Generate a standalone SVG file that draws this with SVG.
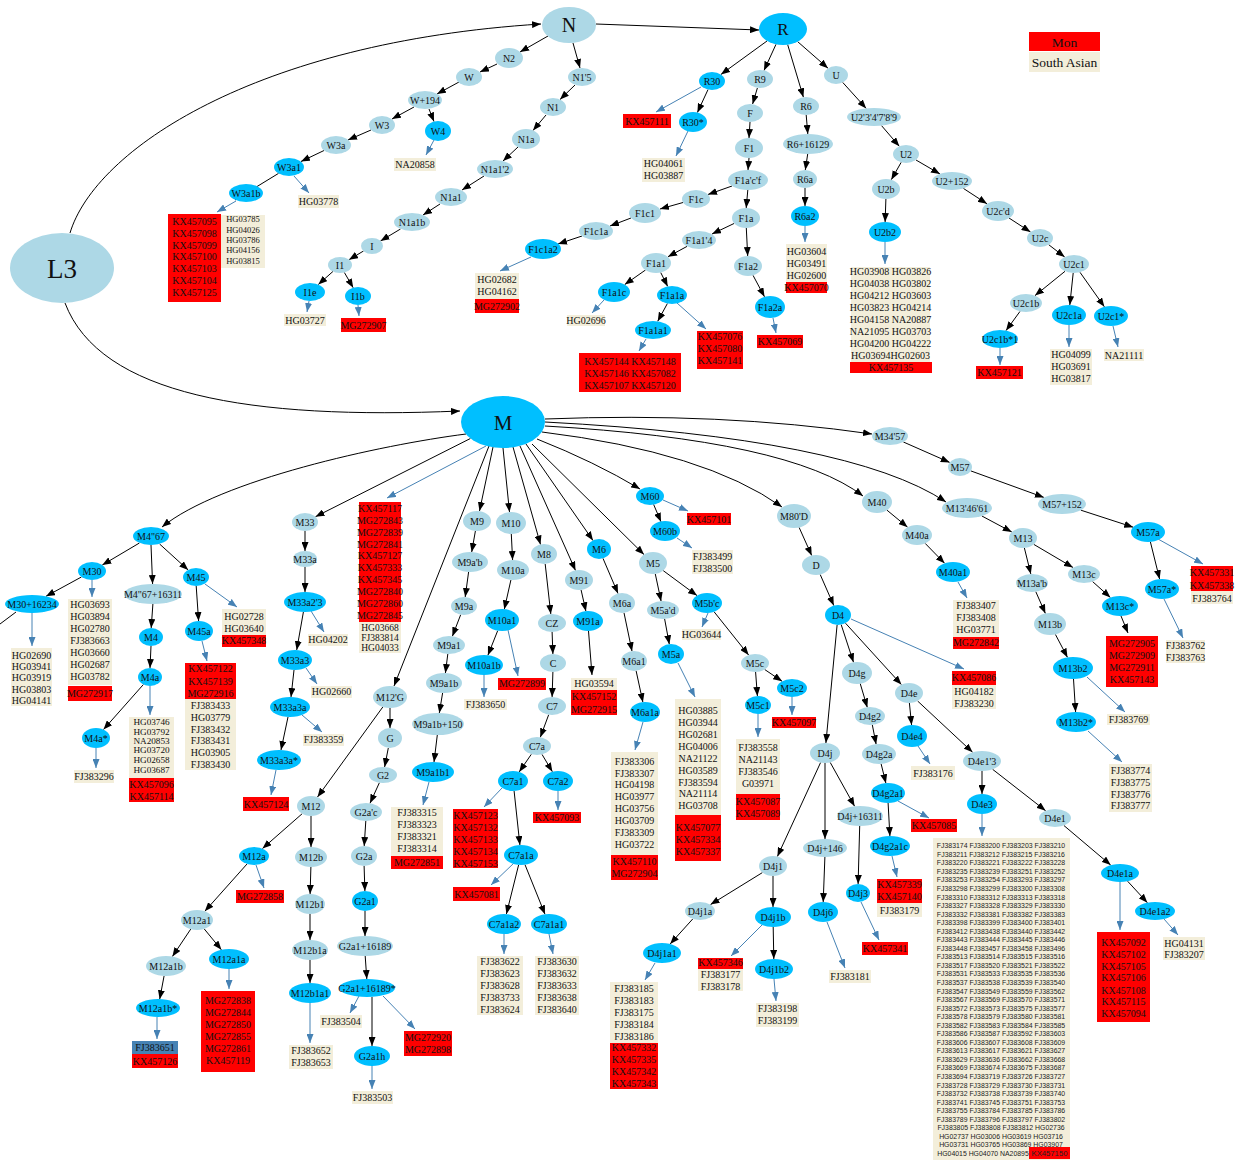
<svg xmlns="http://www.w3.org/2000/svg" width="1248" height="1160" viewBox="0 0 1248 1160">
<defs>
<style>
.nl{fill:#ADD8E6}
.nb{fill:#00BFFF}
.t{font-family:"Liberation Serif","Times New Roman",serif;font-size:10px;text-anchor:middle;fill:#111}
.rb{fill:#FF0000}
.bg{fill:#F3EEDA}
.sb{fill:#4682B4}
.k{stroke:#000;stroke-width:1;fill:none;marker-end:url(#ak)}
.k0{stroke:#000;stroke-width:1;fill:none}
.s{stroke:#4682B4;stroke-width:1;fill:none;marker-end:url(#as)}
.fj{font-family:"Liberation Sans",Arial,sans-serif;font-size:6.9px;text-anchor:middle;fill:#222}
</style>
<marker id="ak" viewBox="0 0 9 7" refX="9" refY="3.5" markerWidth="9" markerHeight="7" markerUnits="userSpaceOnUse" orient="auto"><path d="M0,0L9,3.5L0,7z" fill="#000"/></marker>
<marker id="as" viewBox="0 0 9 7" refX="9" refY="3.5" markerWidth="9" markerHeight="7" markerUnits="userSpaceOnUse" orient="auto"><path d="M0,0L9,3.5L0,7z" fill="#4682B4"/></marker>
</defs>
<rect width="1248" height="1160" fill="#fff"/>
<g id="connectors">
<path class="k" d="M70,233C95,150 255,42 541,24"/>
<path class="k" d="M65,303C100,395 250,420 460,411"/>
<path class="k" d="M596,24L759,30"/>
<path class="k" d="M548,36L520,52"/>
<path class="k" d="M497,64L480,72"/>
<path class="k" d="M459,82L437,94"/>
<path class="k" d="M429,109L434,121.5"/>
<path class="k" d="M414,107L392,119"/>
<path class="k" d="M371,130L348,140"/>
<path class="k" d="M324,150.5L301,161.5"/>
<path class="k" d="M278.5,173.4L235,200"/>
<path class="k" d="M573,43L580,68"/>
<path class="k" d="M575,85L560,99.5"/>
<path class="k" d="M546,115L533,130.5"/>
<path class="k" d="M518,147L503,161"/>
<path class="k" d="M484,176L462,190"/>
<path class="k" d="M440,204L423,215"/>
<path class="k" d="M400.5,229L380.5,241"/>
<path class="k" d="M363.5,251L349,259.7"/>
<path class="k" d="M333,271.4L318.3,284.5"/>
<path class="k" d="M344.3,272.4L353.2,287.7"/>
<path class="k" d="M767,41L721,74.4"/>
<path class="k" d="M708,89.6L697.4,112.5"/>
<path class="k" d="M776,44.3L764,70.5"/>
<path class="k" d="M757.4,88L752.6,104"/>
<path class="k" d="M750,122L749,138"/>
<path class="k" d="M749,158L748,170"/>
<path class="k" d="M732,186L708,194.5"/>
<path class="k" d="M683,202.5L660,209"/>
<path class="k" d="M631,218L610,226"/>
<path class="k" d="M582,236L558,244"/>
<path class="k" d="M747.8,190L746.2,208"/>
<path class="k" d="M734,223.5L712,234"/>
<path class="k" d="M687,246.4L668,256.7"/>
<path class="k" d="M645.5,270L624.7,284.6"/>
<path class="k" d="M660.7,272.5L667.7,286.4"/>
<path class="k" d="M667.4,303.5L657.7,321.3"/>
<path class="k" d="M746.3,228L747.7,256"/>
<path class="k" d="M753,275.3L764.5,296.8"/>
<path class="k" d="M787.7,44.7L803.4,97.2"/>
<path class="k" d="M806.2,115L807.8,134"/>
<path class="k" d="M807.7,154L805.3,170"/>
<path class="k" d="M805,188L805,206"/>
<path class="k" d="M797.6,41.6L828,68.2"/>
<path class="k" d="M842.7,82.4L866.2,108.4"/>
<path class="k" d="M881.5,125.6L899.3,146.3"/>
<path class="k" d="M901.2,162.3L891.3,179.7"/>
<path class="k" d="M885.9,199L885.1,222"/>
<path class="k" d="M916,160L940,174"/>
<path class="k" d="M963.4,188.4L987,203.8"/>
<path class="k" d="M1009,218L1030.5,232"/>
<path class="k" d="M1048.7,244.7L1064.7,257"/>
<path class="k" d="M1065,271.3L1035,295.6"/>
<path class="k" d="M1020,311.4L1006,330.6"/>
<path class="k" d="M1073.2,273L1069.8,305"/>
<path class="k" d="M1080,272.3L1104.4,306.8"/>
<path class="s" d="M434,140L426,155"/>
<path class="s" d="M294,176L309,193"/>
<path class="s" d="M236,201L217,212"/>
<path class="s" d="M309,301L307,312"/>
<path class="s" d="M358,305L359,316"/>
<path class="s" d="M701,87L656,112"/>
<path class="s" d="M688,131L676,156"/>
<path class="s" d="M531,257L500,271"/>
<path class="s" d="M604,300L592,313"/>
<path class="s" d="M646,339L639,351"/>
<path class="s" d="M677,303L706,329"/>
<path class="s" d="M773,318L776,333"/>
<path class="s" d="M805,226L805,242"/>
<path class="s" d="M885,242L885,264"/>
<path class="s" d="M1000,348L1000,365"/>
<path class="s" d="M1069,325L1069,347"/>
<path class="s" d="M1113,326L1118,347"/>
<path class="k" d="M466,434C380,445 220,480 162,527"/>
<path class="k" d="M470.4,438.5L315.5,516.7"/>
<path class="k" d="M489,446L394,686"/>
<path class="k" d="M493,447L479.5,511"/>
<path class="k" d="M503,448L509.5,512"/>
<path class="k" d="M513,447L540.5,544.5"/>
<path class="k" d="M520,446L575.5,570.5"/>
<path class="k" d="M526,444L593,540.5"/>
<path class="k" d="M532,444L644,554.5"/>
<path class="k" d="M537,439Q595,462 640,489"/>
<path class="k" d="M542,432Q705,452 782,507"/>
<path class="k" d="M545,426Q790,440 863,496"/>
<path class="k" d="M545,422Q850,438 946,502"/>
<path class="k" d="M545,419Q720,412 872,434"/>
<path class="k" d="M139.4,543L102.3,565"/>
<path class="k" d="M81.4,577L46,596.3"/>
<path class="k0" d="M16,612L-4,627"/>
<path class="k" d="M151,545L152.6,584"/>
<path class="k" d="M152.9,604L151.2,628"/>
<path class="k" d="M151,646L150,668"/>
<path class="k" d="M143.4,684.5L103.5,729.5"/>
<path class="k" d="M159.6,544L188.2,570"/>
<path class="k" d="M196.2,586L198.6,621"/>
<path class="k" d="M305,531L305,551"/>
<path class="k" d="M305,567L305,592"/>
<path class="k" d="M303.4,612L296.7,650"/>
<path class="k" d="M294,670L291,697"/>
<path class="k" d="M288,717L281,750"/>
<path class="k" d="M382.8,707L317.5,797"/>
<path class="k" d="M390,708L390,728"/>
<path class="k" d="M388.3,748L384.6,767"/>
<path class="k" d="M379.4,782.7L370,803.3"/>
<path class="k" d="M365.8,821L364.2,846"/>
<path class="k" d="M364.1,866L364.9,891"/>
<path class="k" d="M365,911L365,936"/>
<path class="k" d="M365.2,956L366.8,979"/>
<path class="k" d="M372,997L372,1046"/>
<path class="k" d="M302.2,813.7L262.5,848.5"/>
<path class="k" d="M311,816L311,847"/>
<path class="k" d="M247,864L204.8,911.3"/>
<path class="k" d="M190.8,929L172.4,956.5"/>
<path class="k" d="M204.3,929L221.4,949.8"/>
<path class="k" d="M164.1,975.8L159.7,999.2"/>
<path class="k" d="M310.9,867L310.1,894"/>
<path class="k" d="M310,914L310,940"/>
<path class="k" d="M310,960L310,983"/>
<path class="k" d="M475.4,531L471.7,552"/>
<path class="k" d="M468.6,572L465.2,597"/>
<path class="k" d="M460.7,614.7L452.4,636.2"/>
<path class="k" d="M447.8,654L445.4,673"/>
<path class="k" d="M442.6,693L439.3,713"/>
<path class="k" d="M437.3,735L434,762"/>
<path class="k" d="M511.3,534L512.6,560"/>
<path class="k" d="M510.9,580L504.3,609.3"/>
<path class="k" d="M497.7,630.7L487.9,655.3"/>
<path class="k" d="M545.2,564L550.8,614"/>
<path class="k" d="M552.1,632L552.9,654"/>
<path class="k" d="M552.9,672L552.1,697"/>
<path class="k" d="M548.7,714.7L540.3,737.3"/>
<path class="k" d="M531.3,754.3L519.2,771.9"/>
<path class="k" d="M542,754.4L552.4,771.7"/>
<path class="k" d="M514.1,791L519.9,845"/>
<path class="k" d="M518.6,865L506.4,914"/>
<path class="k" d="M525,864.7L545,914.3"/>
<path class="k" d="M581.1,590L585.9,611.2"/>
<path class="k" d="M588.5,631L592,675"/>
<path class="k" d="M603,558.4L618,593.5"/>
<path class="k" d="M624,612.8L632,651.2"/>
<path class="k" d="M636.1,670.8L642.9,702.2"/>
<path class="k" d="M653.6,504.4L661,521.8"/>
<path class="k" d="M655.3,574L661.1,601.2"/>
<path class="k" d="M664.6,618.8L669.3,644.2"/>
<path class="k" d="M663.2,570.6L697,595.6"/>
<path class="k" d="M714.1,611.8L748.6,655"/>
<path class="k" d="M755.6,672L757.4,696"/>
<path class="k" d="M764.7,669.5L782.1,681.3"/>
<path class="k" d="M799.1,527.4L811.7,555.5"/>
<path class="k" d="M820.2,574.5L833.8,605.6"/>
<path class="k" d="M837.1,625L825.9,743"/>
<path class="k" d="M841.2,624.7L853.5,662.3"/>
<path class="k" d="M845.5,623.2L901.4,684.6"/>
<path class="k" d="M860.2,683.5L867.3,707.4"/>
<path class="k" d="M872.3,724.8L876.1,744.2"/>
<path class="k" d="M881.1,763.8L885.9,783.2"/>
<path class="k" d="M888.1,803L889.9,836"/>
<path class="k" d="M909.4,703L911.6,725"/>
<path class="k" d="M917.6,701L972.6,752.3"/>
<path class="k" d="M982,771L982,794"/>
<path class="k" d="M992.6,769.3L1045.6,810.7"/>
<path class="k" d="M1063.9,825.5L1110.7,865.1"/>
<path class="k" d="M1127.6,881.2L1147.4,902.7"/>
<path class="k" d="M820.6,762.5L777.4,856.5"/>
<path class="k" d="M825,763L825,839"/>
<path class="k" d="M830.2,762.4L854.6,806.3"/>
<path class="k" d="M859.7,826L858.1,884"/>
<path class="k" d="M824.9,857L823.2,902"/>
<path class="k" d="M762.4,872.6L710.5,904.6"/>
<path class="k" d="M773,876L773,907"/>
<path class="k" d="M692.8,918.9L670.2,943.9"/>
<path class="k" d="M773.2,927L773.8,959"/>
<path class="k" d="M887,510.2L907.6,527.2"/>
<path class="k" d="M925.2,543.4L944.6,563.3"/>
<path class="k" d="M981.9,516L1011.8,532"/>
<path class="k" d="M1024.4,548L1030.8,574"/>
<path class="k" d="M1035.8,591.7L1045.4,613.5"/>
<path class="k" d="M1055.4,634.4L1067.5,657.4"/>
<path class="k" d="M1073.5,679L1075.6,712"/>
<path class="k" d="M1033.8,544.4L1073,567.5"/>
<path class="k" d="M1092.6,581.6L1110.4,597.5"/>
<path class="k" d="M1121,616L1128,633"/>
<path class="k" d="M903.4,442L949.7,462.4"/>
<path class="k" d="M970.8,470.9L1043.9,497.4"/>
<path class="k" d="M1080.9,510.2L1133.2,527.2"/>
<path class="k" d="M1150.4,541.9L1159.6,579.1"/>
<path class="s" d="M486,446L387,498"/>
<path class="s" d="M92,580L92,597"/>
<path class="s" d="M32,613L32,646"/>
<path class="s" d="M150,686L150,715"/>
<path class="s" d="M96,748L96,768"/>
<path class="s" d="M205,584L237,607"/>
<path class="s" d="M202,641L207,661"/>
<path class="s" d="M311,611L324,632"/>
<path class="s" d="M306,668L317,684"/>
<path class="s" d="M302,715L322,732"/>
<path class="s" d="M276,770L271,795"/>
<path class="s" d="M256,865L264,888"/>
<path class="s" d="M157,1017L157,1039"/>
<path class="s" d="M229,969L229,989"/>
<path class="s" d="M310,1003L310,1043"/>
<path class="s" d="M359,996L350,1013"/>
<path class="s" d="M383,996L415,1029"/>
<path class="s" d="M372,1066L372,1089"/>
<path class="s" d="M429,782L423,805"/>
<path class="s" d="M508,630L518,676"/>
<path class="s" d="M484,675L484,697"/>
<path class="s" d="M502,788L484,807"/>
<path class="s" d="M558,791L558,810"/>
<path class="s" d="M514,863L491,885"/>
<path class="s" d="M504,934L504,954"/>
<path class="s" d="M549,934L553,954"/>
<path class="s" d="M643,722L635,750"/>
<path class="s" d="M663,500L688,511"/>
<path class="s" d="M677,538L692,548"/>
<path class="s" d="M678,663L695,697"/>
<path class="s" d="M708,613L702,627"/>
<path class="s" d="M758,714L758,737"/>
<path class="s" d="M792,697L792,715"/>
<path class="s" d="M851,619L964,669"/>
<path class="s" d="M898,801L929,818"/>
<path class="s" d="M892,856L897,877"/>
<path class="s" d="M918,746L930,764"/>
<path class="s" d="M982,814L982,836"/>
<path class="s" d="M1120,882L1120,930"/>
<path class="s" d="M1164,919L1178,935"/>
<path class="s" d="M861,902L879,940"/>
<path class="s" d="M827,922L845,968"/>
<path class="s" d="M655,963L645,980"/>
<path class="s" d="M762,925L731,956"/>
<path class="s" d="M774,979L776,1001"/>
<path class="s" d="M958,582L967,598"/>
<path class="s" d="M1087,677L1125,712"/>
<path class="s" d="M1088,731L1122,762"/>
<path class="s" d="M1158,539L1203,564"/>
<path class="s" d="M1164,599L1183,638"/>
</g>
<g id="legend">
<rect class="rb" x="1029" y="32" width="71" height="19"/><text class="t" x="1064.5" y="46.5" style="font-size:13.5px">Mon</text>
<rect class="bg" x="1029" y="52" width="71" height="20"/><text class="t" x="1064.5" y="66.5" style="font-size:13.5px">South Asian</text>
</g>
<g id="L3"><ellipse class="nl" cx="62" cy="268" rx="52" ry="35"/><text class="t" x="62" y="277.5" style="font-size:27px">L3</text></g>
<g id="N"><ellipse class="nl" cx="569" cy="25" rx="27" ry="18"/><text class="t" x="569" y="32" style="font-size:20px">N</text></g>
<g id="R"><ellipse class="nb" cx="783" cy="29" rx="24" ry="16"/><text class="t" x="783" y="35" style="font-size:17px">R</text></g>
<g id="N2"><ellipse class="nl" cx="509" cy="58" rx="14" ry="10"/><text class="t" x="509" y="61.5">N2</text></g>
<g id="W"><ellipse class="nl" cx="469" cy="77" rx="13" ry="9"/><text class="t" x="469" y="80.5">W</text></g>
<g id="W194"><ellipse class="nl" cx="425" cy="100" rx="17" ry="9"/><text class="t" x="425" y="103.5">W+194</text></g>
<g id="W4"><ellipse class="nb" cx="438" cy="131" rx="13" ry="10"/><text class="t" x="438" y="134.5">W4</text></g>
<g id="W3"><ellipse class="nl" cx="382" cy="125" rx="13" ry="9"/><text class="t" x="382" y="128.5">W3</text></g>
<g id="W3a"><ellipse class="nl" cx="336" cy="145" rx="15" ry="9"/><text class="t" x="336" y="148.5">W3a</text></g>
<g id="W3a1"><ellipse class="nb" cx="289" cy="167" rx="15" ry="9"/><text class="t" x="289" y="170.5">W3a1</text></g>
<g id="W3a1b"><ellipse class="nb" cx="246" cy="193" rx="17" ry="9"/><text class="t" x="246" y="196.5">W3a1b</text></g>
<g id="N15"><ellipse class="nl" cx="582" cy="77" rx="14" ry="9"/><text class="t" x="582" y="80.5">N1'5</text></g>
<g id="N1"><ellipse class="nl" cx="553" cy="107" rx="13" ry="9"/><text class="t" x="553" y="110.5">N1</text></g>
<g id="N1a"><ellipse class="nl" cx="526" cy="139" rx="14" ry="10"/><text class="t" x="526" y="142.5">N1a</text></g>
<g id="N1a12"><ellipse class="nl" cx="495" cy="169" rx="18" ry="9"/><text class="t" x="495" y="172.5">N1a1'2</text></g>
<g id="N1a1"><ellipse class="nl" cx="451" cy="197" rx="16" ry="9"/><text class="t" x="451" y="200.5">N1a1</text></g>
<g id="N1a1b"><ellipse class="nl" cx="412" cy="222" rx="18" ry="9"/><text class="t" x="412" y="225.5">N1a1b</text></g>
<g id="I"><ellipse class="nl" cx="372" cy="246" rx="11" ry="8"/><text class="t" x="372" y="249.5">I</text></g>
<g id="I1"><ellipse class="nl" cx="340" cy="265" rx="12" ry="8"/><text class="t" x="340" y="268.5">I1</text></g>
<g id="I1e"><ellipse class="nb" cx="310" cy="292" rx="15" ry="9"/><text class="t" x="310" y="295.5">I1e</text></g>
<g id="I1b"><ellipse class="nb" cx="358" cy="296" rx="13" ry="9"/><text class="t" x="358" y="299.5">I1b</text></g>
<g id="R30"><ellipse class="nb" cx="712" cy="81" rx="13" ry="9"/><text class="t" x="712" y="84.5">R30</text></g>
<g id="R30s"><ellipse class="nb" cx="693" cy="122" rx="14" ry="10"/><text class="t" x="693" y="125.5">R30*</text></g>
<g id="R9"><ellipse class="nl" cx="760" cy="79" rx="13" ry="9"/><text class="t" x="760" y="82.5">R9</text></g>
<g id="F"><ellipse class="nl" cx="750" cy="113" rx="13" ry="9"/><text class="t" x="750" y="116.5">F</text></g>
<g id="F1"><ellipse class="nl" cx="749" cy="148" rx="14" ry="10"/><text class="t" x="749" y="151.5">F1</text></g>
<g id="F1acf"><ellipse class="nl" cx="748" cy="180" rx="20" ry="10"/><text class="t" x="748" y="183.5">F1a'c'f</text></g>
<g id="F1c"><ellipse class="nl" cx="696" cy="199" rx="14" ry="9"/><text class="t" x="696" y="202.5">F1c</text></g>
<g id="F1c1"><ellipse class="nl" cx="645" cy="213" rx="16" ry="10"/><text class="t" x="645" y="216.5">F1c1</text></g>
<g id="F1c1a"><ellipse class="nl" cx="596" cy="231" rx="17" ry="9"/><text class="t" x="596" y="234.5">F1c1a</text></g>
<g id="F1c1a2"><ellipse class="nb" cx="543" cy="249" rx="18" ry="10"/><text class="t" x="543" y="252.5">F1c1a2</text></g>
<g id="F1a"><ellipse class="nl" cx="746" cy="218" rx="14" ry="10"/><text class="t" x="746" y="221.5">F1a</text></g>
<g id="F1a14"><ellipse class="nl" cx="699" cy="240" rx="17" ry="9"/><text class="t" x="699" y="243.5">F1a1'4</text></g>
<g id="F1a1"><ellipse class="nl" cx="656" cy="263" rx="15" ry="10"/><text class="t" x="656" y="266.5">F1a1</text></g>
<g id="F1a1c"><ellipse class="nb" cx="614" cy="292" rx="16" ry="10"/><text class="t" x="614" y="295.5">F1a1c</text></g>
<g id="F1a1a"><ellipse class="nb" cx="672" cy="295" rx="15" ry="9"/><text class="t" x="672" y="298.5">F1a1a</text></g>
<g id="F1a1a1"><ellipse class="nb" cx="653" cy="330" rx="18" ry="9"/><text class="t" x="653" y="333.5">F1a1a1</text></g>
<g id="F1a2"><ellipse class="nl" cx="748" cy="266" rx="14" ry="10"/><text class="t" x="748" y="269.5">F1a2</text></g>
<g id="F1a2a"><ellipse class="nb" cx="770" cy="307" rx="15" ry="11"/><text class="t" x="770" y="310.5">F1a2a</text></g>
<g id="R6"><ellipse class="nl" cx="806" cy="106" rx="13" ry="9"/><text class="t" x="806" y="109.5">R6</text></g>
<g id="R616129"><ellipse class="nl" cx="808" cy="144" rx="25" ry="10"/><text class="t" x="808" y="147.5">R6+16129</text></g>
<g id="R6a"><ellipse class="nl" cx="805" cy="179" rx="12" ry="9"/><text class="t" x="805" y="182.5">R6a</text></g>
<g id="R6a2"><ellipse class="nb" cx="805" cy="216" rx="14" ry="10"/><text class="t" x="805" y="219.5">R6a2</text></g>
<g id="U"><ellipse class="nl" cx="836" cy="75" rx="12" ry="9"/><text class="t" x="836" y="78.5">U</text></g>
<g id="U2x"><ellipse class="nl" cx="874" cy="117" rx="27" ry="9"/><text class="t" x="874" y="120.5">U2'3'4'7'8'9</text></g>
<g id="U2"><ellipse class="nl" cx="906" cy="154" rx="13" ry="9"/><text class="t" x="906" y="157.5">U2</text></g>
<g id="U2b"><ellipse class="nl" cx="886" cy="189" rx="14" ry="10"/><text class="t" x="886" y="192.5">U2b</text></g>
<g id="U2b2"><ellipse class="nb" cx="885" cy="232" rx="16" ry="10"/><text class="t" x="885" y="235.5">U2b2</text></g>
<g id="U2p152"><ellipse class="nl" cx="952" cy="181" rx="20" ry="9"/><text class="t" x="952" y="184.5">U2+152</text></g>
<g id="U2cd"><ellipse class="nl" cx="998" cy="211" rx="16" ry="10"/><text class="t" x="998" y="214.5">U2c'd</text></g>
<g id="U2c"><ellipse class="nl" cx="1040" cy="238" rx="13" ry="9"/><text class="t" x="1040" y="241.5">U2c</text></g>
<g id="U2c1"><ellipse class="nl" cx="1074" cy="264" rx="15" ry="9"/><text class="t" x="1074" y="267.5">U2c1</text></g>
<g id="U2c1b"><ellipse class="nl" cx="1026" cy="303" rx="16" ry="9"/><text class="t" x="1026" y="306.5">U2c1b</text></g>
<g id="U2c1bs1"><ellipse class="nb" cx="1000" cy="339" rx="18" ry="9"/><text class="t" x="1000" y="342.5">U2c1b*1</text></g>
<g id="U2c1a"><ellipse class="nb" cx="1069" cy="315" rx="17" ry="10"/><text class="t" x="1069" y="318.5">U2c1a</text></g>
<g id="U2c1s"><ellipse class="nb" cx="1111" cy="316" rx="17" ry="10"/><text class="t" x="1111" y="319.5">U2c1*</text></g>
<g id="M"><ellipse class="nb" cx="503" cy="422" rx="42" ry="26"/><text class="t" x="503" y="429.5" style="font-size:21px">M</text></g>
<g id="M467"><ellipse class="nb" cx="151" cy="536" rx="18" ry="9"/><text class="t" x="151" y="539.5">M4"67</text></g>
<g id="M30"><ellipse class="nb" cx="92" cy="571" rx="14" ry="9"/><text class="t" x="92" y="574.5">M30</text></g>
<g id="M3016234"><ellipse class="nb" cx="32" cy="604" rx="27" ry="9"/><text class="t" x="32" y="607.5">M30+16234</text></g>
<g id="M46716311"><ellipse class="nl" cx="153" cy="594" rx="29" ry="10"/><text class="t" x="153" y="597.5">M4"67+16311</text></g>
<g id="M4"><ellipse class="nb" cx="151" cy="637" rx="12" ry="9"/><text class="t" x="151" y="640.5">M4</text></g>
<g id="M4a"><ellipse class="nb" cx="150" cy="677" rx="12" ry="9"/><text class="t" x="150" y="680.5">M4a</text></g>
<g id="M4as"><ellipse class="nb" cx="96" cy="738" rx="14" ry="10"/><text class="t" x="96" y="741.5">M4a*</text></g>
<g id="M45"><ellipse class="nb" cx="196" cy="577" rx="13" ry="9"/><text class="t" x="196" y="580.5">M45</text></g>
<g id="M45a"><ellipse class="nb" cx="199" cy="631" rx="14" ry="10"/><text class="t" x="199" y="634.5">M45a</text></g>
<g id="M33"><ellipse class="nl" cx="305" cy="522" rx="13" ry="9"/><text class="t" x="305" y="525.5">M33</text></g>
<g id="M33a"><ellipse class="nl" cx="305" cy="559" rx="12" ry="8"/><text class="t" x="305" y="562.5">M33a</text></g>
<g id="M33a23"><ellipse class="nb" cx="305" cy="602" rx="21" ry="10"/><text class="t" x="305" y="605.5">M33a2'3</text></g>
<g id="M33a3"><ellipse class="nb" cx="295" cy="660" rx="17" ry="10"/><text class="t" x="295" y="663.5">M33a3</text></g>
<g id="M33a3a"><ellipse class="nb" cx="290" cy="707" rx="20" ry="10"/><text class="t" x="290" y="710.5">M33a3a</text></g>
<g id="M33a3as"><ellipse class="nb" cx="279" cy="760" rx="22" ry="10"/><text class="t" x="279" y="763.5">M33a3a*</text></g>
<g id="M12G"><ellipse class="nl" cx="390" cy="697" rx="17" ry="11"/><text class="t" x="390" y="700.5">M12'G</text></g>
<g id="G"><ellipse class="nl" cx="390" cy="738" rx="12" ry="10"/><text class="t" x="390" y="741.5">G</text></g>
<g id="G2"><ellipse class="nl" cx="383" cy="775" rx="14" ry="8"/><text class="t" x="383" y="778.5">G2</text></g>
<g id="G2ac"><ellipse class="nl" cx="366" cy="812" rx="16" ry="9"/><text class="t" x="366" y="815.5">G2a'c</text></g>
<g id="G2a"><ellipse class="nl" cx="364" cy="856" rx="13" ry="10"/><text class="t" x="364" y="859.5">G2a</text></g>
<g id="G2a1"><ellipse class="nb" cx="365" cy="901" rx="13" ry="10"/><text class="t" x="365" y="904.5">G2a1</text></g>
<g id="G2a116189"><ellipse class="nl" cx="365" cy="946" rx="28" ry="10"/><text class="t" x="365" y="949.5">G2a1+16189</text></g>
<g id="G2a116189s"><ellipse class="nb" cx="367" cy="988" rx="28" ry="9"/><text class="t" x="367" y="991.5">G2a1+16189*</text></g>
<g id="G2a1h"><ellipse class="nb" cx="372" cy="1056" rx="18" ry="10"/><text class="t" x="372" y="1059.5">G2a1h</text></g>
<g id="M12"><ellipse class="nl" cx="311" cy="806" rx="14" ry="10"/><text class="t" x="311" y="809.5">M12</text></g>
<g id="M12a"><ellipse class="nb" cx="254" cy="856" rx="15" ry="9"/><text class="t" x="254" y="859.5">M12a</text></g>
<g id="M12a1"><ellipse class="nl" cx="197" cy="920" rx="16" ry="10"/><text class="t" x="197" y="923.5">M12a1</text></g>
<g id="M12a1b"><ellipse class="nl" cx="166" cy="966" rx="20" ry="10"/><text class="t" x="166" y="969.5">M12a1b</text></g>
<g id="M12a1bs"><ellipse class="nb" cx="158" cy="1008" rx="22" ry="9"/><text class="t" x="158" y="1011.5">M12a1b*</text></g>
<g id="M12a1a"><ellipse class="nb" cx="229" cy="959" rx="20" ry="10"/><text class="t" x="229" y="962.5">M12a1a</text></g>
<g id="M12b"><ellipse class="nl" cx="311" cy="857" rx="16" ry="10"/><text class="t" x="311" y="860.5">M12b</text></g>
<g id="M12b1"><ellipse class="nl" cx="310" cy="904" rx="15" ry="10"/><text class="t" x="310" y="907.5">M12b1</text></g>
<g id="M12b1a"><ellipse class="nl" cx="310" cy="950" rx="18" ry="10"/><text class="t" x="310" y="953.5">M12b1a</text></g>
<g id="M12b1a1"><ellipse class="nb" cx="310" cy="993" rx="21" ry="10"/><text class="t" x="310" y="996.5">M12b1a1</text></g>
<g id="M9"><ellipse class="nl" cx="477" cy="521" rx="14" ry="10"/><text class="t" x="477" y="524.5">M9</text></g>
<g id="M9ab"><ellipse class="nl" cx="470" cy="562" rx="18" ry="10"/><text class="t" x="470" y="565.5">M9a'b</text></g>
<g id="M9a"><ellipse class="nl" cx="464" cy="606" rx="13" ry="9"/><text class="t" x="464" y="609.5">M9a</text></g>
<g id="M9a1"><ellipse class="nl" cx="449" cy="645" rx="16" ry="9"/><text class="t" x="449" y="648.5">M9a1</text></g>
<g id="M9a1b"><ellipse class="nl" cx="444" cy="683" rx="18" ry="10"/><text class="t" x="444" y="686.5">M9a1b</text></g>
<g id="M9a1b150"><ellipse class="nl" cx="438" cy="724" rx="26" ry="11"/><text class="t" x="438" y="727.5">M9a1b+150</text></g>
<g id="M9a1b1"><ellipse class="nb" cx="433" cy="772" rx="21" ry="10"/><text class="t" x="433" y="775.5">M9a1b1</text></g>
<g id="M10"><ellipse class="nl" cx="511" cy="523" rx="15" ry="11"/><text class="t" x="511" y="526.5">M10</text></g>
<g id="M10a"><ellipse class="nl" cx="513" cy="570" rx="16" ry="10"/><text class="t" x="513" y="573.5">M10a</text></g>
<g id="M10a1"><ellipse class="nb" cx="502" cy="620" rx="17" ry="11"/><text class="t" x="502" y="623.5">M10a1</text></g>
<g id="M10a1b"><ellipse class="nb" cx="484" cy="665" rx="19" ry="10"/><text class="t" x="484" y="668.5">M10a1b</text></g>
<g id="M8"><ellipse class="nl" cx="544" cy="554" rx="13" ry="10"/><text class="t" x="544" y="557.5">M8</text></g>
<g id="CZ"><ellipse class="nl" cx="552" cy="623" rx="14" ry="9"/><text class="t" x="552" y="626.5">CZ</text></g>
<g id="C"><ellipse class="nl" cx="553" cy="663" rx="13" ry="9"/><text class="t" x="553" y="666.5">C</text></g>
<g id="C7"><ellipse class="nl" cx="552" cy="706" rx="14" ry="9"/><text class="t" x="552" y="709.5">C7</text></g>
<g id="C7a"><ellipse class="nl" cx="537" cy="746" rx="14" ry="9"/><text class="t" x="537" y="749.5">C7a</text></g>
<g id="C7a1"><ellipse class="nb" cx="513" cy="781" rx="15" ry="10"/><text class="t" x="513" y="784.5">C7a1</text></g>
<g id="C7a2"><ellipse class="nb" cx="558" cy="781" rx="15" ry="10"/><text class="t" x="558" y="784.5">C7a2</text></g>
<g id="C7a1a"><ellipse class="nb" cx="521" cy="855" rx="17" ry="10"/><text class="t" x="521" y="858.5">C7a1a</text></g>
<g id="C7a1a2"><ellipse class="nb" cx="504" cy="924" rx="17" ry="10"/><text class="t" x="504" y="927.5">C7a1a2</text></g>
<g id="C7a1a1"><ellipse class="nb" cx="549" cy="924" rx="18" ry="10"/><text class="t" x="549" y="927.5">C7a1a1</text></g>
<g id="M91"><ellipse class="nl" cx="579" cy="580" rx="14" ry="10"/><text class="t" x="579" y="583.5">M91</text></g>
<g id="M91a"><ellipse class="nb" cx="588" cy="621" rx="15" ry="10"/><text class="t" x="588" y="624.5">M91a</text></g>
<g id="M6"><ellipse class="nb" cx="599" cy="549" rx="12" ry="10"/><text class="t" x="599" y="552.5">M6</text></g>
<g id="M6a"><ellipse class="nl" cx="622" cy="603" rx="13" ry="10"/><text class="t" x="622" y="606.5">M6a</text></g>
<g id="M6a1"><ellipse class="nl" cx="634" cy="661" rx="13" ry="10"/><text class="t" x="634" y="664.5">M6a1</text></g>
<g id="M6a1a"><ellipse class="nb" cx="645" cy="712" rx="15" ry="10"/><text class="t" x="645" y="715.5">M6a1a</text></g>
<g id="M60"><ellipse class="nb" cx="650" cy="496" rx="14" ry="9"/><text class="t" x="650" y="499.5">M60</text></g>
<g id="M60b"><ellipse class="nb" cx="665" cy="531" rx="15" ry="10"/><text class="t" x="665" y="534.5">M60b</text></g>
<g id="M5"><ellipse class="nl" cx="653" cy="563" rx="14" ry="11"/><text class="t" x="653" y="566.5">M5</text></g>
<g id="M5ad"><ellipse class="nl" cx="663" cy="610" rx="16" ry="9"/><text class="t" x="663" y="613.5">M5a'd</text></g>
<g id="M5a"><ellipse class="nb" cx="671" cy="654" rx="13" ry="10"/><text class="t" x="671" y="657.5">M5a</text></g>
<g id="M5bc"><ellipse class="nb" cx="707" cy="603" rx="15" ry="10"/><text class="t" x="707" y="606.5">M5b'c</text></g>
<g id="M5c"><ellipse class="nl" cx="755" cy="663" rx="14" ry="9"/><text class="t" x="755" y="666.5">M5c</text></g>
<g id="M5c1"><ellipse class="nb" cx="758" cy="705" rx="13" ry="9"/><text class="t" x="758" y="708.5">M5c1</text></g>
<g id="M5c2"><ellipse class="nb" cx="792" cy="688" rx="15" ry="9"/><text class="t" x="792" y="691.5">M5c2</text></g>
<g id="M80D"><ellipse class="nl" cx="794" cy="516" rx="17" ry="12"/><text class="t" x="794" y="519.5">M80'D</text></g>
<g id="D"><ellipse class="nl" cx="816" cy="565" rx="14" ry="10"/><text class="t" x="816" y="568.5">D</text></g>
<g id="D4"><ellipse class="nb" cx="838" cy="615" rx="13" ry="10"/><text class="t" x="838" y="618.5">D4</text></g>
<g id="D4g"><ellipse class="nl" cx="857" cy="673" rx="15" ry="11"/><text class="t" x="857" y="676.5">D4g</text></g>
<g id="D4g2"><ellipse class="nl" cx="870" cy="716" rx="15" ry="9"/><text class="t" x="870" y="719.5">D4g2</text></g>
<g id="D4g2a"><ellipse class="nl" cx="879" cy="754" rx="17" ry="10"/><text class="t" x="879" y="757.5">D4g2a</text></g>
<g id="D4g2a1"><ellipse class="nb" cx="888" cy="793" rx="17" ry="10"/><text class="t" x="888" y="796.5">D4g2a1</text></g>
<g id="D4g2a1c"><ellipse class="nb" cx="890" cy="846" rx="20" ry="10"/><text class="t" x="890" y="849.5">D4g2a1c</text></g>
<g id="D4e"><ellipse class="nl" cx="909" cy="693" rx="14" ry="10"/><text class="t" x="909" y="696.5">D4e</text></g>
<g id="D4e4"><ellipse class="nb" cx="912" cy="736" rx="15" ry="11"/><text class="t" x="912" y="739.5">D4e4</text></g>
<g id="D4e13"><ellipse class="nl" cx="982" cy="761" rx="19" ry="10"/><text class="t" x="982" y="764.5">D4e1'3</text></g>
<g id="D4e3"><ellipse class="nb" cx="982" cy="804" rx="15" ry="10"/><text class="t" x="982" y="807.5">D4e3</text></g>
<g id="D4e1"><ellipse class="nl" cx="1055" cy="818" rx="16" ry="9"/><text class="t" x="1055" y="821.5">D4e1</text></g>
<g id="D4e1a"><ellipse class="nb" cx="1120" cy="873" rx="19" ry="9"/><text class="t" x="1120" y="876.5">D4e1a</text></g>
<g id="D4e1a2"><ellipse class="nb" cx="1155" cy="911" rx="20" ry="9"/><text class="t" x="1155" y="914.5">D4e1a2</text></g>
<g id="D4j"><ellipse class="nl" cx="825" cy="753" rx="15" ry="10"/><text class="t" x="825" y="756.5">D4j</text></g>
<g id="D4j16311"><ellipse class="nl" cx="860" cy="816" rx="23" ry="10"/><text class="t" x="860" y="819.5">D4j+16311</text></g>
<g id="D4j3"><ellipse class="nb" cx="858" cy="893" rx="12" ry="9"/><text class="t" x="858" y="896.5">D4j3</text></g>
<g id="D4j146"><ellipse class="nl" cx="825" cy="848" rx="22" ry="9"/><text class="t" x="825" y="851.5">D4j+146</text></g>
<g id="D4j6"><ellipse class="nb" cx="823" cy="912" rx="15" ry="10"/><text class="t" x="823" y="915.5">D4j6</text></g>
<g id="D4j1"><ellipse class="nl" cx="773" cy="866" rx="14" ry="10"/><text class="t" x="773" y="869.5">D4j1</text></g>
<g id="D4j1a"><ellipse class="nl" cx="700" cy="911" rx="15" ry="9"/><text class="t" x="700" y="914.5">D4j1a</text></g>
<g id="D4j1a1"><ellipse class="nb" cx="662" cy="953" rx="19" ry="10"/><text class="t" x="662" y="956.5">D4j1a1</text></g>
<g id="D4j1b"><ellipse class="nb" cx="773" cy="917" rx="18" ry="10"/><text class="t" x="773" y="920.5">D4j1b</text></g>
<g id="D4j1b2"><ellipse class="nb" cx="774" cy="969" rx="19" ry="10"/><text class="t" x="774" y="972.5">D4j1b2</text></g>
<g id="M40"><ellipse class="nl" cx="877" cy="502" rx="15" ry="11"/><text class="t" x="877" y="505.5">M40</text></g>
<g id="M40a"><ellipse class="nl" cx="917" cy="535" rx="15" ry="10"/><text class="t" x="917" y="538.5">M40a</text></g>
<g id="M40a1"><ellipse class="nb" cx="953" cy="572" rx="17" ry="10"/><text class="t" x="953" y="575.5">M40a1</text></g>
<g id="M134661"><ellipse class="nl" cx="967" cy="508" rx="25" ry="10"/><text class="t" x="967" y="511.5">M13'46'61</text></g>
<g id="M13"><ellipse class="nl" cx="1023" cy="538" rx="14" ry="10"/><text class="t" x="1023" y="541.5">M13</text></g>
<g id="M13ab"><ellipse class="nl" cx="1032" cy="583" rx="16" ry="9"/><text class="t" x="1032" y="586.5">M13a'b</text></g>
<g id="M13b"><ellipse class="nl" cx="1050" cy="624" rx="16" ry="11"/><text class="t" x="1050" y="627.5">M13b</text></g>
<g id="M13b2"><ellipse class="nb" cx="1073" cy="668" rx="20" ry="11"/><text class="t" x="1073" y="671.5">M13b2</text></g>
<g id="M13b2s"><ellipse class="nb" cx="1076" cy="722" rx="20" ry="10"/><text class="t" x="1076" y="725.5">M13b2*</text></g>
<g id="M13c"><ellipse class="nl" cx="1084" cy="574" rx="16" ry="9"/><text class="t" x="1084" y="577.5">M13c</text></g>
<g id="M13cs"><ellipse class="nb" cx="1120" cy="606" rx="18" ry="10"/><text class="t" x="1120" y="609.5">M13c*</text></g>
<g id="M3457"><ellipse class="nl" cx="890" cy="436" rx="18" ry="9"/><text class="t" x="890" y="439.5">M34'57</text></g>
<g id="M57"><ellipse class="nl" cx="960" cy="467" rx="12" ry="9"/><text class="t" x="960" y="470.5">M57</text></g>
<g id="M57152"><ellipse class="nl" cx="1062" cy="504" rx="24" ry="10"/><text class="t" x="1062" y="507.5">M57+152</text></g>
<g id="M57a"><ellipse class="nb" cx="1148" cy="532" rx="17" ry="10"/><text class="t" x="1148" y="535.5">M57a</text></g>
<g id="M57as"><ellipse class="nb" cx="1162" cy="589" rx="17" ry="10"/><text class="t" x="1162" y="592.5">M57a*</text></g>
<g id="bNA20858"><rect class="bg" x="394" y="158" width="42" height="13"/><text class="t" x="415" y="168">NA20858</text></g>
<g id="bHG03778"><rect class="bg" x="298" y="195" width="41" height="13"/><text class="t" x="318.5" y="205">HG03778</text></g>
<g id="bW3a1b"><rect class="rb" x="168" y="214" width="53" height="88"/><text class="t"><tspan x="194.5" y="224.5">KX457095</tspan><tspan x="194.5" y="236.5">KX457098</tspan><tspan x="194.5" y="248.5">KX457099</tspan><tspan x="194.5" y="260.2">KX457100</tspan><tspan x="194.5" y="272.2">KX457103</tspan><tspan x="194.5" y="284.2">KX457104</tspan><tspan x="194.5" y="296.2">KX457125</tspan></text>
<rect class="bg" x="221" y="215" width="44" height="53"/><text class="t" style="font-size:8.5px"><tspan x="243" y="222.3">HG03785</tspan><tspan x="243" y="232.7">HG04026</tspan><tspan x="243" y="243">HG03786</tspan><tspan x="243" y="253.3">HG04156</tspan><tspan x="243" y="263.7">HG03815</tspan></text></g>
<g id="bHG03727"><rect class="bg" x="284" y="314" width="42" height="12"/><text class="t" x="305" y="323.5">HG03727</text></g>
<g id="bMG272907"><rect class="rb" x="341" y="318" width="45" height="14"/><text class="t" x="363.5" y="328.5">MG272907</text></g>
<g id="bKX457111"><rect class="rb" x="623" y="114" width="48" height="14"/><text class="t" x="647" y="124.5">KX457111</text></g>
<g id="bR30s"><rect class="bg" x="642" y="158" width="43" height="24"/><text class="t"><tspan x="663.5" y="167.2">HG04061</tspan><tspan x="663.5" y="178.8">HG03887</tspan></text></g>
<g id="bF1c1a2"><rect class="bg" x="475" y="273" width="44" height="26"/><text class="t"><tspan x="497" y="282.8">HG02682</tspan><tspan x="497" y="294.8">HG04162</tspan></text><rect class="rb" x="475" y="299" width="44" height="14"/><text class="t" x="497" y="309.5">MG272902</text></g>
<g id="bHG02696"><rect class="bg" x="567" y="315" width="38" height="11"/><text class="t" x="586" y="323.8">HG02696</text></g>
<g id="bF1a1a1"><rect class="rb" x="579" y="353" width="102" height="39"/><text class="t"><tspan x="630" y="365.2">KX457144 KX457148</tspan><tspan x="630" y="376.8">KX457146 KX457082</tspan><tspan x="630" y="388.5">KX457107 KX457120</tspan></text></g>
<g id="bF1a1a"><rect class="rb" x="697" y="331" width="46" height="38"/><text class="t"><tspan x="720" y="339.5">KX457076</tspan><tspan x="720" y="351.5">KX457080</tspan><tspan x="720" y="363.5">KX457141</tspan></text></g>
<g id="bKX457069"><rect class="rb" x="757" y="335" width="46" height="13"/><text class="t" x="780" y="344.8">KX457069</text></g>
<g id="bR6a2"><rect class="bg" x="786" y="244" width="41" height="38"/><text class="t"><tspan x="806.5" y="255.2">HG03604</tspan><tspan x="806.5" y="267.2">HG03491</tspan><tspan x="806.5" y="278.8">HG02600</tspan></text><rect class="rb" x="786" y="282" width="41" height="11"/><text class="t" x="806.5" y="290.8">KX457070</text></g>
<g id="bU2b2"><rect class="bg" x="851" y="267" width="79" height="95"/><text class="t"><tspan x="890.5" y="275.2">HG03908 HG03826</tspan><tspan x="890.5" y="286.8">HG04038 HG03802</tspan><tspan x="890.5" y="298.8">HG04212 HG03603</tspan><tspan x="890.5" y="310.8">HG03823 HG04214</tspan><tspan x="890.5" y="322.8">HG04158 NA20887</tspan><tspan x="890.5" y="334.8">NA21095 HG03703</tspan><tspan x="890.5" y="346.8">HG04200 HG04222</tspan><tspan x="890.5" y="358.5">HG03694HG02603</tspan></text><rect class="rb" x="850" y="362" width="82" height="11"/><text class="t" x="891" y="370.8">KX457135</text></g>
<g id="bKX457121"><rect class="rb" x="976" y="366" width="47" height="13"/><text class="t" x="999.5" y="376">KX457121</text></g>
<g id="bU2c1a"><rect class="bg" x="1050" y="349" width="42" height="36"/><text class="t"><tspan x="1071" y="358.2">HG04099</tspan><tspan x="1071" y="370.2">HG03691</tspan><tspan x="1071" y="382.2">HG03817</tspan></text></g>
<g id="bNA21111"><rect class="bg" x="1104" y="349" width="40" height="12"/><text class="t" x="1124" y="358.8">NA21111</text></g>
<g id="bM3016234"><rect class="bg" x="11" y="648" width="41" height="58"/><text class="t"><tspan x="31.5" y="658.5">HG02690</tspan><tspan x="31.5" y="669.8">HG03941</tspan><tspan x="31.5" y="681.2">HG03919</tspan><tspan x="31.5" y="692.5">HG03803</tspan><tspan x="31.5" y="703.8">HG04141</tspan></text></g>
<g id="bM30"><rect class="bg" x="68" y="599" width="44" height="86"/><text class="t"><tspan x="90" y="607.5">HG03693</tspan><tspan x="90" y="620.2">HG03894</tspan><tspan x="90" y="632.2">HG02780</tspan><tspan x="90" y="644.2">FJ383663</tspan><tspan x="90" y="655.8">HG03660</tspan><tspan x="90" y="667.8">HG02687</tspan><tspan x="90" y="679.8">HG03782</tspan></text><rect class="rb" x="68" y="686" width="44" height="15"/><text class="t" x="90" y="696.8">MG272917</text></g>
<g id="bM4a"><rect class="bg" x="129" y="717" width="45" height="61"/><text class="t" style="font-size:9.2px"><tspan x="151.5" y="725.2">HG03746</tspan><tspan x="151.5" y="734.5">HG03792</tspan><tspan x="151.5" y="744.2">NA20853</tspan><tspan x="151.5" y="753.2">HG03720</tspan><tspan x="151.5" y="763.2">HG02658</tspan><tspan x="151.5" y="773.2">HG03687</tspan></text><rect class="rb" x="129" y="778" width="45" height="24"/><text class="t"><tspan x="151.5" y="787.5">KX457096</tspan><tspan x="151.5" y="800">KX457114</tspan></text></g>
<g id="bFJ383296"><rect class="bg" x="74" y="770" width="40" height="13"/><text class="t" x="94" y="779.5">FJ383296</text></g>
<g id="bM45"><rect class="bg" x="222" y="609" width="44" height="26"/><text class="t"><tspan x="244" y="620.2">HG02728</tspan><tspan x="244" y="631.8">HG03640</tspan></text><rect class="rb" x="222" y="635" width="44" height="12"/><text class="t" x="244" y="644.2">KX457348</text></g>
<g id="bM45a"><rect class="rb" x="185" y="663" width="51" height="36"/><text class="t"><tspan x="210.5" y="672.2">KX457122</tspan><tspan x="210.5" y="684.5">KX457139</tspan><tspan x="210.5" y="696.8">MG272916</tspan></text><rect class="bg" x="185" y="699" width="51" height="71"/><text class="t"><tspan x="210.5" y="708.5">FJ383433</tspan><tspan x="210.5" y="720.5">HG03779</tspan><tspan x="210.5" y="732.5">FJ383432</tspan><tspan x="210.5" y="744.2">FJ383431</tspan><tspan x="210.5" y="756.2">HG03905</tspan><tspan x="210.5" y="767.8">FJ383430</tspan></text></g>
<g id="bHG04202"><rect class="bg" x="308" y="634" width="40" height="12"/><text class="t" x="328" y="642.8">HG04202</text></g>
<g id="bHG02660"><rect class="bg" x="311" y="686" width="41" height="12"/><text class="t" x="331.5" y="695.2">HG02660</text></g>
<g id="bFJ383359"><rect class="bg" x="303" y="734" width="41" height="12"/><text class="t" x="323.5" y="742.8">FJ383359</text></g>
<g id="bKX457124"><rect class="rb" x="243" y="797" width="46" height="14"/><text class="t" x="266" y="807.5">KX457124</text></g>
<g id="bM"><rect class="rb" x="359" y="502" width="42" height="120"/><text class="t"><tspan x="380" y="511.8">KX457117</tspan><tspan x="380" y="523.5">MG272843</tspan><tspan x="380" y="535.5">MG272839</tspan><tspan x="380" y="547.5">MG272841</tspan><tspan x="380" y="559.2">KX457127</tspan><tspan x="380" y="571.2">KX457333</tspan><tspan x="380" y="582.8">KX457345</tspan><tspan x="380" y="594.8">MG272840</tspan><tspan x="380" y="606.8">MG272860</tspan><tspan x="380" y="618.8">MG272845</tspan></text><rect class="bg" x="359" y="622" width="42" height="31"/><text class="t" style="font-size:9.5px"><tspan x="380" y="631">HG03668</tspan><tspan x="380" y="641">FJ383814</tspan><tspan x="380" y="651">HG04033</tspan></text></g>
<g id="bM9a1b1"><rect class="bg" x="391" y="807" width="52" height="49"/><text class="t"><tspan x="417" y="816.2">FJ383315</tspan><tspan x="417" y="827.8">FJ383323</tspan><tspan x="417" y="839.8">FJ383321</tspan><tspan x="417" y="851.8">FJ383314</tspan></text><rect class="rb" x="391" y="856" width="52" height="13"/><text class="t" x="417" y="866.2">MG272851</text></g>
<g id="bFJ383650"><rect class="bg" x="464" y="699" width="43" height="11"/><text class="t" x="485.5" y="707.8">FJ383650</text></g>
<g id="bMG272899"><rect class="rb" x="498" y="678" width="48" height="12"/><text class="t" x="522" y="686.8">MG272899</text></g>
<g id="bC7a1"><rect class="rb" x="453" y="809" width="45" height="59"/><text class="t"><tspan x="475.5" y="819.2">KX457123</tspan><tspan x="475.5" y="831.2">KX457132</tspan><tspan x="475.5" y="843.2">KX457133</tspan><tspan x="475.5" y="855.2">KX457134</tspan><tspan x="475.5" y="866.8">KX457153</tspan></text></g>
<g id="bKX457093"><rect class="rb" x="533" y="812" width="48" height="11"/><text class="t" x="557" y="821.2">KX457093</text></g>
<g id="bM91a"><rect class="bg" x="571" y="678" width="46" height="12"/><text class="t" x="594" y="686.8">HG03594</text><rect class="rb" x="571" y="690" width="46" height="25"/><text class="t"><tspan x="594" y="700.2">KX457152</tspan><tspan x="594" y="712.5">MG272915</tspan></text></g>
<g id="bM6a1a"><rect class="bg" x="611" y="752" width="47" height="103"/><text class="t"><tspan x="634.5" y="764.5">FJ383306</tspan><tspan x="634.5" y="776.5">FJ383307</tspan><tspan x="634.5" y="788.2">HG04198</tspan><tspan x="634.5" y="800.2">HG03977</tspan><tspan x="634.5" y="812.2">HG03756</tspan><tspan x="634.5" y="823.8">HG03709</tspan><tspan x="634.5" y="835.8">FJ383309</tspan><tspan x="634.5" y="847.8">HG03722</tspan></text><rect class="rb" x="611" y="855" width="47" height="25"/><text class="t"><tspan x="634.5" y="864.5">KX457110</tspan><tspan x="634.5" y="876.8">MG272904</tspan></text></g>
<g id="bKX457101"><rect class="rb" x="687" y="513" width="44" height="12"/><text class="t" x="709" y="522.8">KX457101</text></g>
<g id="bM60b"><rect class="bg" x="692" y="550" width="41" height="24"/><text class="t"><tspan x="712.5" y="560.2">FJ383499</tspan><tspan x="712.5" y="571.8">FJ383500</tspan></text></g>
<g id="bM5a"><rect class="bg" x="675" y="699" width="46" height="116"/><text class="t"><tspan x="698" y="713.8">HG03885</tspan><tspan x="698" y="725.8">HG03944</tspan><tspan x="698" y="737.8">HG02681</tspan><tspan x="698" y="749.5">HG04006</tspan><tspan x="698" y="761.5">NA21122</tspan><tspan x="698" y="773.5">HG03589</tspan><tspan x="698" y="785.5">FJ383594</tspan><tspan x="698" y="797.2">NA21114</tspan><tspan x="698" y="809.2">HG03708</tspan></text><rect class="rb" x="675" y="815" width="46" height="46"/><text class="t"><tspan x="698" y="830.8">KX457077</tspan><tspan x="698" y="842.8">KX457334</tspan><tspan x="698" y="854.8">KX457337</tspan></text></g>
<g id="bHG03644"><rect class="bg" x="682" y="629" width="39" height="11"/><text class="t" x="701.5" y="637.5">HG03644</text></g>
<g id="bKX457097"><rect class="rb" x="772" y="717" width="44" height="11"/><text class="t" x="794" y="725.6">KX457097</text></g>
<g id="bM5c1"><rect class="bg" x="736" y="739" width="44" height="55"/><text class="t"><tspan x="758" y="750.8">FJ383558</tspan><tspan x="758" y="762.8">NA21143</tspan><tspan x="758" y="774.8">FJ383546</tspan><tspan x="758" y="786.8">G03971</tspan></text><rect class="rb" x="736" y="794" width="44" height="26"/><text class="t"><tspan x="758" y="804.8">KX457087</tspan><tspan x="758" y="816.8">KX457089</tspan></text></g>
<g id="bD4"><rect class="rb" x="952" y="671" width="44" height="14"/><text class="t" x="974" y="681">KX457086</text><rect class="bg" x="952" y="685" width="44" height="24"/><text class="t"><tspan x="974" y="694.5">HG04182</tspan><tspan x="974" y="706.5">FJ383230</tspan></text></g>
<g id="bKX457085"><rect class="rb" x="911" y="819" width="46" height="13"/><text class="t" x="934" y="829">KX457085</text></g>
<g id="bD4g2a1c"><rect class="rb" x="877" y="879" width="45" height="24"/><text class="t"><tspan x="899.5" y="887.8">KX457339</tspan><tspan x="899.5" y="899.8">KX457140</tspan></text><rect class="bg" x="877" y="903" width="45" height="14"/><text class="t" x="899.5" y="913.5">FJ383179</text></g>
<g id="bFJ383176"><rect class="bg" x="911" y="766" width="44" height="14"/><text class="t" x="933" y="776.5">FJ383176</text></g>
<g id="bFJ383181"><rect class="bg" x="829" y="970" width="42" height="13"/><text class="t" x="850" y="980">FJ383181</text></g>
<g id="bKX457341"><rect class="rb" x="862" y="942" width="46" height="13"/><text class="t" x="885" y="952">KX457341</text></g>
<g id="bD4j1a1"><rect class="bg" x="610" y="982" width="48" height="61"/><text class="t"><tspan x="634" y="991.5">FJ383185</tspan><tspan x="634" y="1003.5">FJ383183</tspan><tspan x="634" y="1015.5">FJ383175</tspan><tspan x="634" y="1027.5">FJ383184</tspan><tspan x="634" y="1039.5">FJ383186</tspan></text><rect class="rb" x="610" y="1043" width="48" height="46"/><text class="t"><tspan x="634" y="1051.2">KX457332</tspan><tspan x="634" y="1063.2">KX457335</tspan><tspan x="634" y="1075.2">KX457342</tspan><tspan x="634" y="1087.2">KX457343</tspan></text></g>
<g id="bD4j1b"><rect class="rb" x="698" y="958" width="45" height="11"/><text class="t" x="720.5" y="966.2">KX457346</text><rect class="bg" x="698" y="969" width="45" height="22"/><text class="t"><tspan x="720.5" y="977.5">FJ383177</tspan><tspan x="720.5" y="989.5">FJ383178</tspan></text></g>
<g id="bD4j1b2"><rect class="bg" x="756" y="1003" width="43" height="24"/><text class="t"><tspan x="777.5" y="1012.2">FJ383198</tspan><tspan x="777.5" y="1023.8">FJ383199</tspan></text></g>
<g id="bC7a1a2"><rect class="bg" x="477" y="956" width="46" height="59"/><text class="t"><tspan x="500" y="965.2">FJ383622</tspan><tspan x="500" y="976.8">FJ383623</tspan><tspan x="500" y="988.8">FJ383628</tspan><tspan x="500" y="1000.8">FJ383733</tspan><tspan x="500" y="1012.8">FJ383624</tspan></text></g>
<g id="bC7a1a1"><rect class="bg" x="535" y="956" width="44" height="59"/><text class="t"><tspan x="557" y="965.2">FJ383630</tspan><tspan x="557" y="976.8">FJ383632</tspan><tspan x="557" y="988.8">FJ383633</tspan><tspan x="557" y="1000.8">FJ383638</tspan><tspan x="557" y="1012.8">FJ383640</tspan></text></g>
<g id="bKX457081"><rect class="rb" x="453" y="887" width="47" height="14"/><text class="t" x="476.5" y="897.8">KX457081</text></g>
<g id="bMG272920"><rect class="rb" x="404" y="1031" width="48" height="25"/><text class="t"><tspan x="428" y="1040.8">MG272920</tspan><tspan x="428" y="1052.8">MG272898</tspan></text></g>
<g id="bMG272858"><rect class="rb" x="236" y="890" width="48" height="13"/><text class="t" x="260" y="900.3">MG272858</text></g>
<g id="bM12a1bs"><rect class="sb" x="132" y="1041" width="46" height="13"/><text class="t" x="155" y="1050.8">FJ383651</text><rect class="rb" x="132" y="1054" width="46" height="14"/><text class="t" x="155" y="1065">KX457126</text></g>
<g id="bM12a1a"><rect class="rb" x="201" y="991" width="54" height="81"/><text class="t"><tspan x="228" y="1004.2">MG272838</tspan><tspan x="228" y="1015.8">MG272844</tspan><tspan x="228" y="1027.8">MG272850</tspan><tspan x="228" y="1039.8">MG272855</tspan><tspan x="228" y="1051.8">MG272861</tspan><tspan x="228" y="1063.8">KX457119</tspan></text></g>
<g id="bM12b1a1"><rect class="bg" x="289" y="1045" width="44" height="24"/><text class="t"><tspan x="311" y="1054.2">FJ383652</tspan><tspan x="311" y="1066.2">FJ383653</tspan></text></g>
<g id="bFJ383504"><rect class="bg" x="320" y="1015" width="42" height="13"/><text class="t" x="341" y="1024.5">FJ383504</text></g>
<g id="bFJ383503"><rect class="bg" x="352" y="1091" width="41" height="13"/><text class="t" x="372.5" y="1100.5">FJ383503</text></g>
<g id="bM40a1"><rect class="bg" x="953" y="600" width="46" height="37"/><text class="t"><tspan x="976" y="609.2">FJ383407</tspan><tspan x="976" y="620.8">FJ383408</tspan><tspan x="976" y="632.8">HG03771</tspan></text><rect class="rb" x="953" y="637" width="46" height="12"/><text class="t" x="976" y="646.2">MG272842</text></g>
<g id="bM57a"><rect class="rb" x="1191" y="566" width="42" height="25"/><text class="t"><tspan x="1212" y="575.8">KX457331</tspan><tspan x="1212" y="588.5">KX457338</tspan></text><rect class="bg" x="1191" y="591" width="42" height="13"/><text class="t" x="1212" y="601.5">FJ383764</text></g>
<g id="bM57as"><rect class="bg" x="1166" y="640" width="39" height="23"/><text class="t"><tspan x="1185.5" y="649.2">FJ383762</tspan><tspan x="1185.5" y="660.8">FJ383763</tspan></text></g>
<g id="bM13cs"><rect class="rb" x="1106" y="636" width="52" height="51"/><text class="t"><tspan x="1132" y="646.8">MG272905</tspan><tspan x="1132" y="658.8">MG272909</tspan><tspan x="1132" y="670.8">MG272911</tspan><tspan x="1132" y="683.2">KX457143</tspan></text></g>
<g id="bFJ383769"><rect class="bg" x="1107" y="714" width="43" height="11"/><text class="t" x="1128.5" y="722.5">FJ383769</text></g>
<g id="bM13b2s"><rect class="bg" x="1109" y="764" width="43" height="48"/><text class="t"><tspan x="1130.5" y="773.8">FJ383774</tspan><tspan x="1130.5" y="785.8">FJ383775</tspan><tspan x="1130.5" y="797.5">FJ383776</tspan><tspan x="1130.5" y="809.2">FJ383777</tspan></text></g>
<g id="bD4e1a"><rect class="rb" x="1097" y="932" width="53" height="90"/><text class="t"><tspan x="1123.5" y="945.8">KX457092</tspan><tspan x="1123.5" y="957.8">KX457102</tspan><tspan x="1123.5" y="969.5">KX457105</tspan><tspan x="1123.5" y="981.2">KX457106</tspan><tspan x="1123.5" y="993.5">KX457108</tspan><tspan x="1123.5" y="1005.2">KX457115</tspan><tspan x="1123.5" y="1017.2">KX457094</tspan></text></g>
<g id="bD4e1a2"><rect class="bg" x="1163" y="937" width="42" height="23"/><text class="t"><tspan x="1184" y="947.2">HG04131</tspan><tspan x="1184" y="958.2">FJ383207</tspan></text></g>
<g id="bD4e3"><rect class="bg" x="933" y="838" width="137" height="322"/><text class="fj"><tspan x="1001" y="848.2">FJ383174 FJ383200 FJ383203 FJ383210</tspan><tspan x="1001" y="856.7">FJ383211 FJ383212 FJ383215 FJ383216</tspan><tspan x="1001" y="865.3">FJ383220 FJ383221 FJ383222 FJ383228</tspan><tspan x="1001" y="873.8">FJ383235 FJ383239 FJ383251 FJ383252</tspan><tspan x="1001" y="882.4">FJ383253 FJ383254 FJ383293 FJ383297</tspan><tspan x="1001" y="890.9">FJ383298 FJ383299 FJ383300 FJ383308</tspan><tspan x="1001" y="899.5">FJ383310 FJ383312 FJ383313 FJ383318</tspan><tspan x="1001" y="908">FJ383327 FJ383328 FJ383329 FJ383330</tspan><tspan x="1001" y="916.6">FJ383332 FJ383381 FJ383382 FJ383383</tspan><tspan x="1001" y="925.1">FJ383398 FJ383399 FJ383400 FJ383401</tspan><tspan x="1001" y="933.7">FJ383412 FJ383438 FJ383440 FJ383442</tspan><tspan x="1001" y="942.2">FJ383443 FJ383444 FJ383445 FJ383446</tspan><tspan x="1001" y="950.7">FJ383448 FJ383457 FJ383458 FJ383496</tspan><tspan x="1001" y="959.3">FJ383513 FJ383514 FJ383515 FJ383516</tspan><tspan x="1001" y="967.8">FJ383517 FJ383520 FJ383521 FJ383522</tspan><tspan x="1001" y="976.4">FJ383531 FJ383533 FJ383535 FJ383536</tspan><tspan x="1001" y="984.9">FJ383537 FJ383538 FJ383539 FJ383540</tspan><tspan x="1001" y="993.5">FJ383547 FJ383549 FJ383559 FJ383562</tspan><tspan x="1001" y="1002">FJ383567 FJ383569 FJ383570 FJ383571</tspan><tspan x="1001" y="1010.6">FJ383572 FJ383573 FJ383575 FJ383577</tspan><tspan x="1001" y="1019.1">FJ383578 FJ383579 FJ383580 FJ383581</tspan><tspan x="1001" y="1027.6">FJ383582 FJ383583 FJ383584 FJ383585</tspan><tspan x="1001" y="1036.2">FJ383586 FJ383587 FJ383592 FJ383603</tspan><tspan x="1001" y="1044.7">FJ383606 FJ383607 FJ383608 FJ383609</tspan><tspan x="1001" y="1053.3">FJ383613 FJ383617 FJ383621 FJ383627</tspan><tspan x="1001" y="1061.8">FJ383629 FJ383636 FJ383662 FJ383668</tspan><tspan x="1001" y="1070.4">FJ383669 FJ383674 FJ383675 FJ383687</tspan><tspan x="1001" y="1078.9">FJ383694 FJ383719 FJ383726 FJ383727</tspan><tspan x="1001" y="1087.5">FJ383728 FJ383729 FJ383730 FJ383731</tspan><tspan x="1001" y="1096">FJ383732 FJ383738 FJ383739 FJ383740</tspan><tspan x="1001" y="1104.5">FJ383741 FJ383745 FJ383751 FJ383753</tspan><tspan x="1001" y="1113.1">FJ383755 FJ383784 FJ383785 FJ383786</tspan><tspan x="1001" y="1121.6">FJ383789 FJ383796 FJ383797 FJ383802</tspan><tspan x="1001" y="1130.2">FJ383805 FJ383808 FJ383812 HG02736</tspan><tspan x="1001" y="1138.7">HG02737 HG03006 HG03619 HG03716</tspan><tspan x="1001" y="1147.3">HG03731 HG03765 HG03869 HG03907</tspan><tspan x="983" y="1155.8">HG04015 HG04070 NA20895</tspan></text><rect class="rb" x="1029" y="1147" width="41" height="12"/><text class="fj" x="1049.5" y="1156" style="font-size:7.7px">KX457150</text></g>
</svg>
